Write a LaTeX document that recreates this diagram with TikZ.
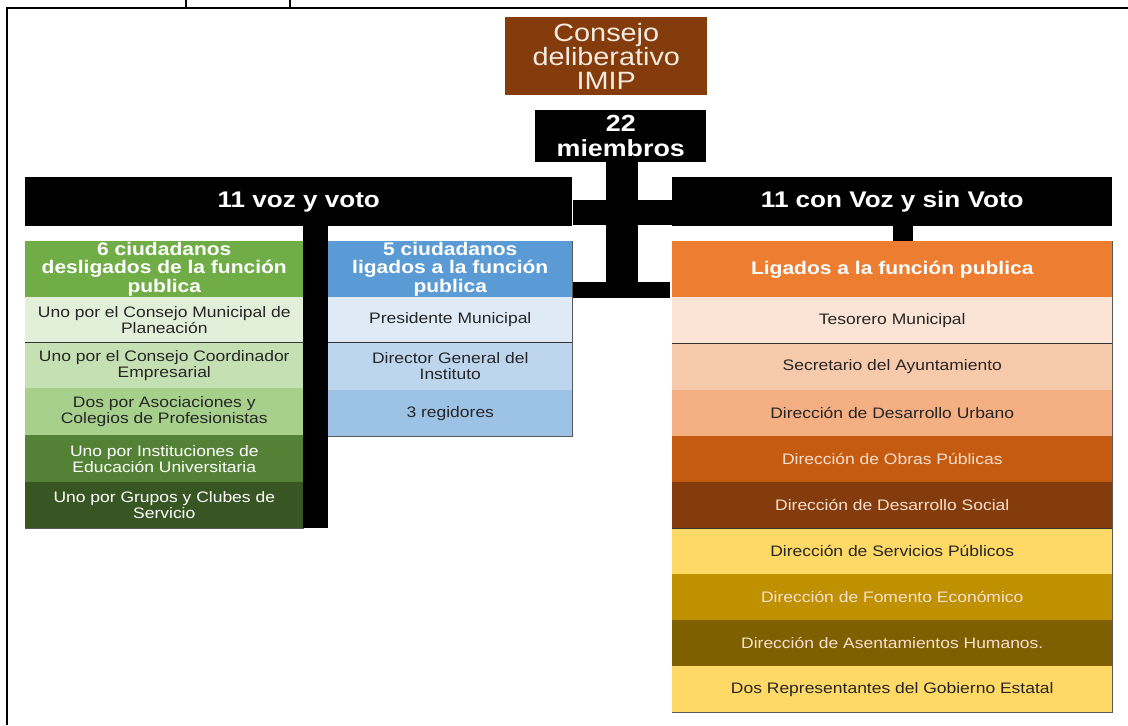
\documentclass[tikz,border=0pt]{standalone}
\usepackage{fontspec}
\setmainfont[FakeStretch=1.15]{Liberation Sans}
\definecolor{brownhead}{HTML}{843C0C}
\definecolor{creamtext}{HTML}{F5EBE0}
\definecolor{greenH}{HTML}{70AD47}
\definecolor{green1}{HTML}{E2EFD9}
\definecolor{green2}{HTML}{C5E0B3}
\definecolor{green3}{HTML}{A8D08D}
\definecolor{green4}{HTML}{538135}
\definecolor{green5}{HTML}{385623}
\definecolor{blueH}{HTML}{5B9BD5}
\definecolor{blue1}{HTML}{DEEAF6}
\definecolor{blue2}{HTML}{BDD6EE}
\definecolor{blue3}{HTML}{9CC2E5}
\definecolor{orangeH}{HTML}{ED7D31}
\definecolor{or1}{HTML}{FBE4D5}
\definecolor{or2}{HTML}{F7CAAC}
\definecolor{or3}{HTML}{F4B083}
\definecolor{or4}{HTML}{C55A11}
\definecolor{or5}{HTML}{843C0C}
\definecolor{ye1}{HTML}{FFD966}
\definecolor{ye2}{HTML}{BF9000}
\definecolor{ye3}{HTML}{7F6000}
\definecolor{darktext}{HTML}{262626}
\definecolor{paletext}{HTML}{F8E0D0}
\newcommand\fRow{\fontsize{11.4}{12.3}\selectfont}
\newcommand\fHead{\bfseries\fontsize{13.7}{13.9}\selectfont}
\newcommand\fBar{\bfseries\fontsize{17}{18}\selectfont}
\newcommand\fMem{\bfseries\fontsize{17.5}{18.5}\selectfont}
\newcommand\fTop{\fontsize{18.8}{18}\selectfont}
\tikzset{
  cell/.style={draw=none, inner sep=0pt, anchor=north west, align=center},
  rowtxt/.style={cell, font=\fRow},
  headtxt/.style={cell, font=\fHead},
  bartxt/.style={cell, font=\fBar},
  toptxt/.style={cell, font=\fTop},
  memtxt/.style={cell, font=\fMem},
  bar/.style={fill=black},
  sep/.style={draw=black!80, line width=0.8pt},
  edge/.style={draw=black!65, line width=0.9pt},
  frame/.style={draw=black, line width=2pt}
}
% #1 name, #2 x, #3 y, #4 w, #5 h, #6 style, #7 fill, #8 text colour, #9 text
\newcommand\cellbox[9]{\node[#6, fill=#7, text=#8, minimum width=#4*0.75pt, minimum height=#5*0.75pt] (#1) at (#2,#3) {#9};}
\begin{document}
\begin{tikzpicture}[x=0.75pt,y=-0.75pt]
\useasboundingbox (0,0) rectangle (1128,725);
\fill[white] (0,0) rectangle (1128,725);
% frame
\draw[frame] (7,725) -- (7,8) -- (1128,8);
\draw[line width=1.2pt] (186,0) -- (186,8);
\draw[line width=1.2pt] (290,0) -- (290,8);

% top boxes
\cellbox{consejo}{505}{17}{202}{78}{toptxt}{brownhead}{creamtext}{Consejo\\deliberativo\\IMIP}
\cellbox{miembros}{535}{110}{171}{52}{memtxt}{black}{white}{22\\miembros}

% category bars
\cellbox{voto}{25}{177}{547}{49}{bartxt}{black}{white}{11 voz y voto}
\cellbox{sinvoto}{672}{177}{440}{49}{bartxt}{black}{white}{11 con Voz y sin Voto}

% black connectors (drawn as bars)
\path[bar] (606,162) rectangle (638,298);
\path[bar] (voto.east |- 0,200) rectangle (sinvoto.west |- 0,225);
\path[bar] (570,282) rectangle (670,298);
\path[bar] (303,226) rectangle (328,528);
\path[bar] (893,226) rectangle (913,241);

% green column
\cellbox{gH}{25}{241}{278}{56}{headtxt}{greenH}{white}{6 ciudadanos\\desligados de la función\\publica}
\cellbox{g1}{25}{297}{278}{45}{rowtxt}{green1}{darktext}{Uno por el Consejo Municipal de\\Planeación}
\cellbox{g2}{25}{342}{278}{46}{rowtxt}{green2}{darktext}{Uno por el Consejo Coordinador\\Empresarial}
\cellbox{g3}{25}{388}{278}{47}{rowtxt}{green3}{darktext}{Dos por Asociaciones y\\Colegios de Profesionistas}
\cellbox{g4}{25}{435}{278}{47}{rowtxt}{green4}{white}{Uno por Instituciones de\\Educación Universitaria}
\cellbox{g5}{25}{482}{278}{46}{rowtxt}{green5}{white}{Uno por Grupos y Clubes de\\Servicio}
\draw[sep] (g1.south west) -- (g1.south east);
\draw[edge] (g5.south west) -- (g5.south east);

% blue column
\cellbox{bH}{328}{241}{244}{56}{headtxt}{blueH}{white}{5 ciudadanos\\ligados a la función\\publica}
\cellbox{b1}{328}{297}{244}{45}{rowtxt}{blue1}{darktext}{Presidente Municipal}
\cellbox{b2}{328}{342}{244}{48}{rowtxt}{blue2}{darktext}{Director General del\\Instituto}
\cellbox{b3}{328}{390}{244}{46}{rowtxt}{blue3}{darktext}{3 regidores}
\draw[sep] (b1.south west) -- (b1.south east);
\draw[edge] (bH.north east) -- (b3.south east);
\draw[edge] (b3.south west) -- (b3.south east);

% orange column
\cellbox{oH}{672}{241}{440}{56}{headtxt}{orangeH}{white}{Ligados a la función publica}
\cellbox{o1}{672}{297}{440}{46}{rowtxt}{or1}{darktext}{Tesorero Municipal}
\cellbox{o2}{672}{343}{440}{47}{rowtxt}{or2}{darktext}{Secretario del Ayuntamiento}
\cellbox{o3}{672}{390}{440}{46}{rowtxt}{or3}{darktext}{Dirección de Desarrollo Urbano}
\cellbox{o4}{672}{436}{440}{46}{rowtxt}{or4}{paletext}{Dirección de Obras Públicas}
\cellbox{o5}{672}{482}{440}{46}{rowtxt}{or5}{paletext}{Dirección de Desarrollo Social}
\cellbox{o6}{672}{528}{440}{46}{rowtxt}{ye1}{darktext}{Dirección de Servicios Públicos}
\cellbox{o7}{672}{574}{440}{46}{rowtxt}{ye2}{paletext}{Dirección de Fomento Económico}
\cellbox{o8}{672}{620}{440}{46}{rowtxt}{ye3}{paletext}{Dirección de Asentamientos Humanos.}
\cellbox{o9}{672}{666}{440}{46}{rowtxt}{ye1}{darktext}{Dos Representantes del Gobierno Estatal}
\draw[sep] (o1.south west) -- (o1.south east);
\draw[sep] (o5.south west) -- (o5.south east);
\draw[edge] (oH.north east) -- (o9.south east) -- (o9.south west);
\end{tikzpicture}
\end{document}
